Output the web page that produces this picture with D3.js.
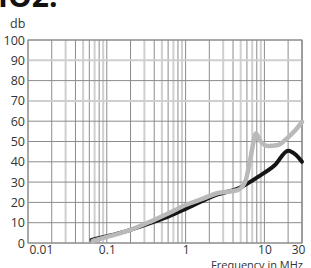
<!DOCTYPE html>
<html>
<head>
<meta charset="utf-8">
<script src="https://cdn.jsdelivr.net/npm/d3@7/dist/d3.min.js"></script>
<style>
body { margin: 0; background: #fff; }
text { font-family: "Open Sans", sans-serif; fill: #333; }
</style>
</head>
<body>
<div id="chart"></div>
<script>
// attenuation curves, frequency in MHz
var blackFreq = [0.064, 0.1, 0.2, 0.37, 0.6, 1, 1.7, 2.5, 4.7, 8.4, 13.6, 20, 25, 30];
var blackDb   = [1.5, 3.3, 6.5, 10, 13, 16.8, 21, 23.8, 26.9, 32.7, 38.4, 45.5, 43.5, 40];

var grayFreq = [0.066, 0.1, 0.2, 0.37, 0.6, 1, 1.7, 2.5, 4.6, 5.7, 6.6, 7.2, 7.8, 8.8, 11.1, 15, 18.3, 24, 30];
var grayDb   = [1, 3, 6.5, 10.8, 14.5, 18.7, 22, 24.5, 26.1, 30.2, 40.9, 49, 54, 50.5, 47.8, 48.3, 50.7, 55, 59.7];

var yTicks = [0, 10, 20, 30, 40, 50, 60, 70, 80, 90, 100];
var xTicks = [0.01, 0.1, 1, 10, 30];
var xTickLabels = ["0.01", "0.1", "1", "10", "30"];

var margin = { top: 40, right: 9, bottom: 25, left: 28 },
    width = 311 - margin.left - margin.right,
    height = 268 - margin.top - margin.bottom;

var svg = d3.select("#chart")
    .append("svg")
    .attr("width", 311)
    .attr("height", 268);

// clipped heading at the very top
svg.append("text")
    .attr("x", -2)
    .attr("y", 7)
    .style("font-size", "30px")
    .style("font-weight", "bold")
    .style("fill", "#111")
    .text("IO2.");

svg.append("text")
    .attr("x", 10)
    .attr("y", 28)
    .style("font-size", "12.5px")
    .text("db");

var g = svg.append("g")
    .attr("transform", "translate(" + margin.left + "," + margin.top + ")");

var x = d3.scaleLog()
    .domain([0.01, 30])
    .range([0, width]);

var y = d3.scaleLinear()
    .domain([0, 100])
    .range([height, 0]);

// vertical grid: every 1..9 of each decade
var minor = [];
[0.01, 0.1, 1, 10].forEach(function(d) {
    for (var k = 1; k <= 9; k++) {
        var v = +(d * k).toPrecision(3);
        if (v <= 30) minor.push({ v: v, k: k });
    }
});
minor.push({ v: 30, k: 1 });

g.selectAll(".vgrid")
    .data(minor)
    .enter().append("line")
    .attr("class", "vgrid")
    .attr("x1", d => x(d.v))
    .attr("x2", d => x(d.v))
    .attr("y1", 0)
    .attr("y2", height)
    .attr("stroke", d => (d.k % 2 == 1 && d.k > 1) ? "#cfcfcf" : "#8c8c8c")
    .attr("stroke-width", d => (d.k % 2 == 1 && d.k > 1) ? 2 : 1);

g.selectAll(".hgrid")
    .data(yTicks)
    .enter().append("line")
    .attr("class", "hgrid")
    .attr("x1", 0)
    .attr("x2", width)
    .attr("y1", d => y(d))
    .attr("y2", d => y(d))
    .attr("stroke", d => (d == 90 || d == 70) ? "#cfcfcf" : "#8c8c8c")
    .attr("stroke-width", d => (d == 90 || d == 70) ? 2 : 1);

// frame
g.append("rect")
    .attr("width", width)
    .attr("height", height)
    .attr("fill", "none")
    .attr("stroke", "#8c8c8c")
    .attr("stroke-width", 1);

// axes (labels only)
var yAxis = g.append("g")
    .call(d3.axisLeft(y).tickValues(yTicks).tickSize(0).tickPadding(3));
yAxis.select(".domain").remove();
yAxis.selectAll("text").style("font-size", "12.5px").style("font-family", "Open Sans");

var xAxis = g.append("g")
    .attr("transform", "translate(0," + height + ")")
    .call(d3.axisBottom(x).tickValues(xTicks).tickSize(0).tickPadding(2)
        .tickFormat((d, i) => xTickLabels[i]));
xAxis.select(".domain").remove();
xAxis.selectAll("text").style("font-size", "12px").style("font-family", "Open Sans");
xAxis.selectAll("text").filter(d => d == 0.01).attr("text-anchor", "start").attr("dx", "1");
xAxis.selectAll("text").filter(d => d == 30).attr("dx", "-4");

svg.append("text")
    .attr("x", 303)
    .attr("y", 269)
    .attr("text-anchor", "end")
    .style("font-size", "11px")
    .text("Frequency in MHz");

var line = d3.line()
    .x(d => x(d[0]))
    .y(d => y(d[1]))
    .curve(d3.curveMonotoneX);

g.append("path")
    .datum(d3.zip(blackFreq, blackDb))
    .attr("d", line)
    .attr("fill", "none")
    .attr("stroke", "#151515")
    .attr("stroke-width", 4)
    .attr("stroke-linecap", "round")
    .attr("stroke-linejoin", "round");

g.append("path")
    .datum(d3.zip(grayFreq, grayDb))
    .attr("d", line)
    .attr("fill", "none")
    .attr("stroke", "#b9b9b9")
    .attr("stroke-width", 4.5)
    .attr("stroke-linecap", "round")
    .attr("stroke-linejoin", "round");
</script>
</body>
</html>
